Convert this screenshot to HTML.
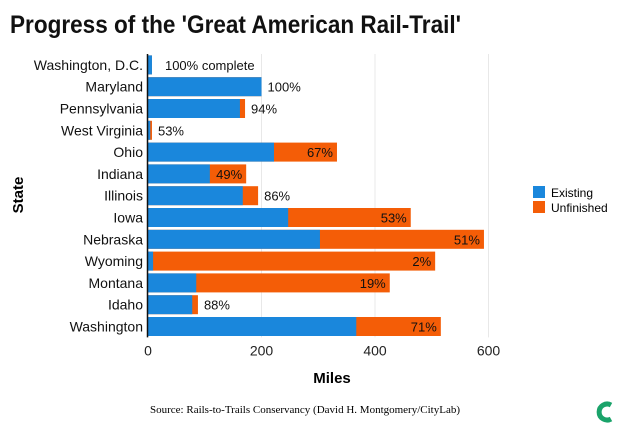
<!DOCTYPE html>
<html><head><meta charset="utf-8">
<style>
body{margin:0;background:#fff;width:620px;height:428px;overflow:hidden}
svg text{font-family:"Liberation Sans Narrow","Liberation Sans",sans-serif}
</style></head><body>
<svg id="chart" width="620" height="428" xmlns="http://www.w3.org/2000/svg">
<text x="10" y="33" font-size="25" font-weight="bold" fill="#111" textLength="451" lengthAdjust="spacingAndGlyphs">Progress of the 'Great American Rail-Trail'</text>
<g id="grid"></g>
<g id="bars"></g>
<g id="axes"></g>
<text x="332" y="383" font-size="15" font-weight="bold" text-anchor="middle">Miles</text>
<text transform="translate(23,195) rotate(-90)" font-size="15" font-weight="bold" text-anchor="middle">State</text>
<g>
<rect x="533" y="186" width="12" height="12" fill="#1a87dc"/>
<text x="551" y="197" font-size="12">Existing</text>
<rect x="533" y="201" width="12" height="12" fill="#f45d07"/>
<text x="551" y="212" font-size="12">Unfinished</text>
</g>
<text x="305" y="413" font-size="11" text-anchor="middle" style="font-family:'Liberation Serif',serif">Source: Rails-to-Trails Conservancy (David H. Montgomery/CityLab)</text>
<g>
<path d="M611 405 A8 8 0 1 0 611 419" fill="none" stroke="#1aa36a" stroke-width="5"/>
</g>
</svg>
<script>
const states=["Washington, D.C.","Maryland","Pennsylvania","West Virginia","Ohio","Indiana","Illinois","Iowa","Nebraska","Wyoming","Montana","Idaho","Washington"];
const existing=[7,200,162,4,222,109,167,247,303,9,85,78,367];
const totals=[7,200,171,7,333,173,194,463,592,506,426,88,516];
const pctLabels=["100% complete","100%","94%","53%","67%","49%","86%","53%","51%","2%","19%","88%","71%"];
const inside=[false,false,false,false,true,true,false,true,true,true,true,false,true];
const xTicks=[0,200,400,600];
const NS="http://www.w3.org/2000/svg";
const x0=148,pxPer=113.5/200,plotTop=54,rowH=21.8,barH=19;
const xs=v=>x0+v*pxPer;
const yc=i=>plotTop+rowH*(i+0.5);
function mk(tag,attrs,parent){const e=document.createElementNS(NS,tag);for(const k in attrs)e.setAttribute(k,attrs[k]);parent.appendChild(e);return e;}
const grid=document.getElementById('grid'),bars=document.getElementById('bars'),axes=document.getElementById('axes');
const plotBottom=plotTop+rowH*states.length;
xTicks.forEach(t=>{
 const l=mk('line',{x1:xs(t),x2:xs(t),y1:plotTop,y2:plotBottom,stroke:'#e8e8e8','stroke-width':1},grid);
 
 
 const tx=mk('text',{x:xs(t),y:plotBottom+18,'font-size':14,'text-anchor':'middle',fill:'#222'},axes);
 tx.textContent=t;
 
 
});
states.forEach((s,i)=>{
 const y=yc(i);
 const u=mk('rect',{x:xs(0),y:y-barH/2,width:xs(totals[i])-xs(0),height:barH,fill:'#f45d07'},bars);
 
 
 const e=mk('rect',{x:xs(0),y:y-barH/2,width:xs(existing[i])-xs(0),height:barH,fill:'#1a87dc'},bars);
 
 
 const lab=mk('text',{y:y+5,'font-size':13,fill:'#111'},bars);
 if(inside[i]){lab.setAttribute('x',xs(totals[i])-4);lab.setAttribute('text-anchor','end');}
 else{lab.setAttribute('x',xs(totals[i])+(i===0?13:6));}
 lab.textContent=pctLabels[i];
 
 
 const st=mk('text',{x:x0-5,y:y+5,'font-size':14,'text-anchor':'end',fill:'#111'},axes);
 st.textContent=s;
 
 
});
const ax=mk('line',{x1:x0-0.5,x2:x0-0.5,y1:plotTop,y2:plotBottom,stroke:'#111','stroke-width':1.5},axes);


</script>
</body></html>
